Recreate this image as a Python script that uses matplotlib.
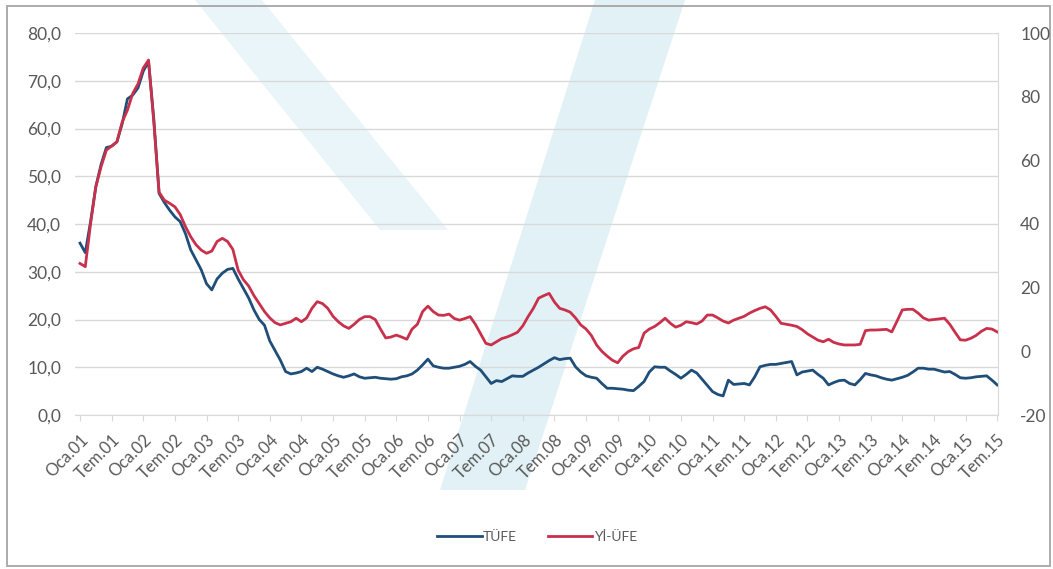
import numpy as np
import matplotlib.pyplot as plt
from matplotlib.patches import Polygon, Rectangle

# aylik yillik degisim (%), Ocak 2001 - Temmuz 2015
tufe = [
    36.0, 34.0, 40.5, 47.8, 52.5, 56.0, 56.3, 57.2, 61.0, 66.2, 67.0, 68.5,   # 2001
    72.0, 74.0, 62.0, 46.4, 44.5, 42.9, 41.5, 40.5, 38.0, 34.6, 32.5, 30.4,   # 2002
    27.5, 26.2, 28.5, 29.7, 30.5, 30.7, 28.5, 26.5, 24.5, 22.0, 20.0, 18.8,   # 2003
    15.5, 13.5, 11.5, 9.1, 8.6, 8.8, 9.1, 9.8, 9.1, 10.0, 9.6, 9.1,           # 2004
    8.6, 8.2, 7.9, 8.2, 8.6, 8.0, 7.7, 7.8, 7.9, 7.7, 7.6, 7.5,               # 2005
    7.6, 8.0, 8.2, 8.6, 9.4, 10.5, 11.7, 10.3, 10.0, 9.8, 9.8, 10.0,          # 2006
    10.2, 10.6, 11.2, 10.2, 9.4, 8.0, 6.6, 7.2, 7.0, 7.6, 8.2, 8.1,           # 2007
    8.1, 8.8, 9.4, 10.0, 10.7, 11.4, 12.0, 11.6, 11.8, 11.9, 10.1, 9.0,       # 2008
    8.2, 7.9, 7.7, 6.6, 5.6, 5.6, 5.5, 5.4, 5.2, 5.1, 6.0, 7.0,               # 2009
    9.0, 10.1, 10.0, 10.0, 9.2, 8.5, 7.7, 8.5, 9.4, 8.8, 7.5, 6.2,            # 2010
    4.9, 4.3, 4.0, 7.3, 6.4, 6.5, 6.6, 6.3, 8.0, 10.1, 10.4, 10.6,            # 2011
    10.6, 10.8, 11.0, 11.2, 8.4, 9.0, 9.2, 9.4, 8.5, 7.7, 6.3, 6.8,           # 2012
    7.2, 7.3, 6.6, 6.3, 7.4, 8.7, 8.4, 8.2, 7.8, 7.5, 7.3, 7.6,               # 2013
    7.9, 8.3, 9.0, 9.8, 9.8, 9.6, 9.6, 9.3, 9.0, 9.1, 8.5, 7.8,               # 2014
    7.7, 7.8, 8.0, 8.1, 8.2, 7.3, 6.3,                                        # 2015
]

yi_ufe = [
    27.6, 26.6, 40.0, 51.7, 58.0, 63.2, 64.5, 65.8, 72.0, 75.8, 81.0, 84.0,   # 2001
    89.0, 91.5, 72.0, 50.0, 47.5, 46.5, 45.4, 43.0, 39.2, 36.0, 33.5, 31.8,   # 2002
    30.8, 31.5, 34.5, 35.5, 34.5, 32.0, 25.5, 22.5, 20.5, 17.5, 15.0, 12.5,   # 2003
    10.5, 9.0, 8.3, 8.8, 9.3, 10.4, 9.3, 10.5, 13.5, 15.6, 15.0, 13.5,        # 2004
    11.0, 9.3, 8.0, 7.2, 8.5, 10.0, 10.9, 10.9, 10.0, 7.0, 4.2, 4.5,          # 2005
    5.1, 4.5, 3.8, 7.0, 8.5, 12.5, 14.2, 12.5, 11.4, 11.3, 11.7, 10.3,        # 2006
    9.8, 10.3, 10.9, 8.5, 5.5, 2.5, 2.0, 3.0, 4.0, 4.5, 5.2, 6.0,             # 2007
    8.0, 10.9, 13.5, 16.7, 17.5, 18.2, 15.5, 13.5, 13.0, 12.3, 10.5, 8.3,     # 2008
    7.0, 5.0, 2.0, 0.0, -1.5, -2.8, -3.6, -1.5, -0.1, 0.8, 1.2, 5.7,          # 2009
    7.0, 7.8, 9.0, 10.4, 8.8, 7.6, 8.2, 9.3, 9.0, 8.6, 9.5, 11.4,             # 2010
    11.4, 10.5, 9.5, 8.9, 9.8, 10.4, 11.0, 12.0, 12.8, 13.5, 14.0, 13.0,      # 2011
    11.0, 8.8, 8.5, 8.2, 7.8, 6.8, 5.5, 4.5, 3.5, 3.0, 3.8, 2.8,              # 2012
    2.3, 2.0, 2.0, 2.0, 2.2, 6.5, 6.7, 6.7, 6.8, 6.9, 6.1, 9.5,               # 2013
    13.0, 13.2, 13.2, 12.0, 10.5, 9.8, 10.0, 10.2, 10.4, 8.5, 6.0, 3.6,       # 2014
    3.5, 4.1, 5.0, 6.3, 7.2, 7.0, 6.1,                                        # 2015
]

yillar = list(range(1, 16))
etiketler = []
for y in yillar:
    etiketler.append("Oca.%02d" % y)
    etiketler.append("Tem.%02d" % y)

sol_ticks = [0, 10, 20, 30, 40, 50, 60, 70, 80]
sag_ticks = [-20, 0, 20, 40, 60, 80, 100]

mavi = '#1f4e79'
kirmizi = '#c8304b'
gri_yazi = '#595959'
gri_cizgi = '#d9d9d9'

plt.rcParams['font.family'] = ['Lato', 'DejaVu Sans']

W, H = 1053, 569
fig = plt.figure(figsize=(W / 100, H / 100), dpi=100)

# arka plandaki filigran (piksel koordinatlari)
bg = fig.add_axes([0, 0, 1, 1], zorder=0)
bg.set_xlim(0, W)
bg.set_ylim(H, 0)
bg.axis('off')
bg.add_patch(Polygon([(195, 0), (262, 0), (448, 230), (380, 230)], closed=True,
                     facecolor='#d6edf4', edgecolor='none', alpha=0.5))
bg.add_patch(Polygon([(595, 0), (685, 0), (525, 490), (440, 490)], closed=True,
                     facecolor='#c4e4ee', edgecolor='none', alpha=0.5))

ax = fig.add_axes([75 / W, 1 - 415 / H, 923 / W, 382 / H], zorder=2)
ax.patch.set_alpha(0)
ax2 = ax.twinx()

x = np.arange(len(tufe))
ax.plot(x, tufe, color=mavi, lw=2.0, label='TÜFE', solid_joinstyle='round')
ax2.plot(x, yi_ufe, color=kirmizi, lw=2.0, label='Yİ-ÜFE', solid_joinstyle='round')

ax.set_xlim(-0.95, 174.15)
ax.set_ylim(0, 80)
ax2.set_ylim(-20, 100)

ax.set_yticks(sol_ticks)
ax.set_yticklabels(['%d,0' % v for v in sol_ticks])
ax2.set_yticks(sag_ticks)
ax2.set_yticklabels([str(v) for v in sag_ticks])

ax.set_xticks(np.arange(0, len(tufe), 6))
ax.set_xticklabels(etiketler, rotation=45, ha='right', va='top', rotation_mode='anchor')

ax.grid(True, axis='y', color=gri_cizgi, lw=1)
ax.set_axisbelow(True)

for a in (ax, ax2):
    for s in ('top', 'left'):
        a.spines[s].set_visible(False)
ax.spines['right'].set_visible(False)
ax2.spines['bottom'].set_visible(False)
ax2.spines['right'].set_color(gri_cizgi)
ax.spines['bottom'].set_color(gri_cizgi)

ax.tick_params(axis='y', length=0, labelsize=12.5, labelcolor=gri_yazi, pad=10)
ax.tick_params(axis='x', length=4, color=gri_cizgi, labelsize=12, labelcolor=gri_yazi, pad=8)
ax2.tick_params(axis='y', length=0, labelsize=12.5, labelcolor=gri_yazi, pad=16)

h1, l1 = ax.get_legend_handles_labels()
h2, l2 = ax2.get_legend_handles_labels()
fig.legend(h1 + h2, l1 + l2, loc='center', bbox_to_anchor=(537 / W, 1 - 537 / H),
           ncol=2, frameon=False, fontsize=10, labelcolor=gri_yazi,
           handlelength=3.2, handletextpad=0.1, columnspacing=2.2)

fig.add_artist(Rectangle((7 / W, 3 / H), 1043 / W, 560 / H, transform=fig.transFigure,
                         fill=False, edgecolor='#a6a6a6', lw=1.3))

fig.savefig('out.png', dpi=100)
